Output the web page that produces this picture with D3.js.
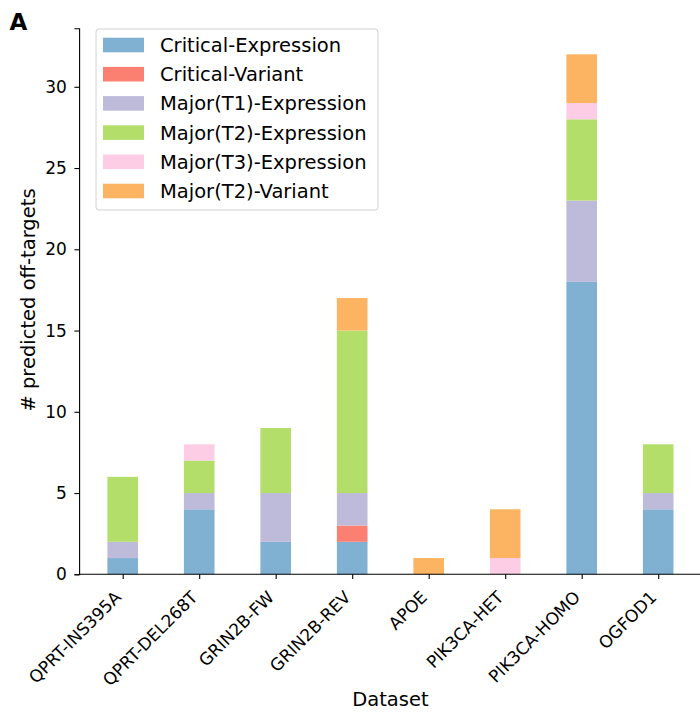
<!DOCTYPE html>
<html>
<head>
<meta charset="utf-8">
<script src="https://cdn.jsdelivr.net/npm/d3@7"></script>
<style>
  body { margin: 0; background: #fff; }
  text { font-family: "DejaVu Sans", sans-serif; }
</style>
</head>
<body>
<script>
// data
const datasets = ["QPRT-INS395A", "QPRT-DEL268T", "GRIN2B-FW", "GRIN2B-REV", "APOE", "PIK3CA-HET", "PIK3CA-HOMO", "OGFOD1"];
const categories = ["Critical-Expression", "Critical-Variant", "Major(T1)-Expression", "Major(T2)-Expression", "Major(T3)-Expression", "Major(T2)-Variant"];
const criticalExpression = [1, 4, 2, 2, 0, 0, 18, 4];
const criticalVariant    = [0, 0, 0, 1, 0, 0, 0, 0];
const majorT1Expression  = [1, 1, 3, 2, 0, 0, 5, 1];
const majorT2Expression  = [4, 2, 4, 10, 0, 0, 5, 3];
const majorT3Expression  = [0, 1, 0, 0, 0, 1, 1, 0];
const majorT2Variant     = [0, 0, 0, 2, 1, 3, 3, 0];
const yTicks = [0, 5, 10, 15, 20, 25, 30];

const colors = ["#80b1d3", "#fb8072", "#bebada", "#b3de69", "#fccde5", "#fdb462"];
const series = [criticalExpression, criticalVariant, majorT1Expression, majorT2Expression, majorT3Expression, majorT2Variant];

// table for d3.stack
const table = datasets.map((d, i) => {
  const row = {dataset: d};
  categories.forEach((c, j) => row[c] = series[j][i]);
  return row;
});
const stacked = d3.stack().keys(categories)(table);

const width = 700, height = 713;
const step = 76.5;
const x0 = 122.7;
const x = d3.scaleLinear().domain([-0.57, 7.57]).range([x0 - 0.57 * step, x0 + 7.57 * step]);
const y = d3.scaleLinear().domain([0, 33.6]).range([574.3, 28.3]);
const barW = 0.4 * step;

const svg = d3.select("body").append("svg")
  .attr("width", width)
  .attr("height", height);

// bars
svg.append("g").selectAll("g")
  .data(stacked)
  .join("g")
    .attr("fill", (d, i) => colors[i])
  .selectAll("rect")
  .data(d => d)
  .join("rect")
    .attr("x", (d, i) => x(i) - barW / 2)
    .attr("width", barW)
    .attr("y", d => y(d[1]))
    .attr("height", d => y(d[0]) - y(d[1]));

// y axis
const yAxis = svg.append("g")
  .attr("transform", `translate(${x.range()[0]},0)`)
  .call(d3.axisLeft(y).tickValues(yTicks).tickSize(4.7).tickPadding(7.6));
yAxis.attr("font-size", 17).attr("font-family", "DejaVu Sans");
yAxis.select(".domain").attr("stroke", "#000").attr("stroke-width", 1.1);
yAxis.selectAll(".tick line").attr("stroke", "#000").attr("stroke-width", 1.1);
yAxis.selectAll(".tick text").attr("fill", "#000");

// x axis
const xAxis = svg.append("g")
  .attr("transform", `translate(0,${y(0)})`)
  .call(d3.axisBottom(x).tickValues(d3.range(datasets.length)).tickSize(4.7).tickFormat(i => datasets[i]));
xAxis.attr("font-size", 17).attr("font-family", "DejaVu Sans");
xAxis.select(".domain").attr("stroke", "#000").attr("stroke-width", 1.1)
  .attr("d", `M${x.range()[0]},0H${x.range()[1]}`);
xAxis.selectAll(".tick line").attr("stroke", "#000").attr("stroke-width", 1.1);
xAxis.selectAll(".tick text")
  .attr("fill", "#000")
  .attr("text-anchor", "end")
  .attr("y", 0).attr("dy", 0)
  .attr("transform", "translate(-1,24) rotate(-45)");

// axis titles
svg.append("text")
  .attr("transform", `translate(35,300) rotate(-90)`)
  .attr("text-anchor", "middle")
  .attr("font-size", 19.5)
  .text("# predicted off-targets");

svg.append("text")
  .attr("x", (x.range()[0] + x.range()[1]) / 2)
  .attr("y", 706)
  .attr("text-anchor", "middle")
  .attr("font-size", 19.5)
  .text("Dataset");

// panel letter
svg.append("text")
  .attr("x", 9.5)
  .attr("y", 30)
  .attr("font-size", 23)
  .attr("font-weight", "bold")
  .text("A");

// legend
const legend = svg.append("g");
legend.append("rect")
  .attr("x", 96).attr("y", 29)
  .attr("width", 282).attr("height", 181)
  .attr("rx", 3)
  .attr("fill", "#fff").attr("fill-opacity", 0.8)
  .attr("stroke", "#d0d0d0").attr("stroke-width", 1);
const rowH = 29.2;
const items = legend.selectAll("g.item")
  .data(categories)
  .join("g")
    .attr("class", "item")
    .attr("transform", (d, i) => `translate(0,${45 + i * rowH})`);
items.append("rect")
  .attr("x", 103).attr("y", -7.3)
  .attr("width", 41).attr("height", 14.6)
  .attr("fill", (d, i) => colors[i]);
items.append("text")
  .attr("x", 160).attr("y", 0)
  .attr("dy", "0.36em")
  .attr("font-size", 19.5)
  .text(d => d);
</script>
</body>
</html>
